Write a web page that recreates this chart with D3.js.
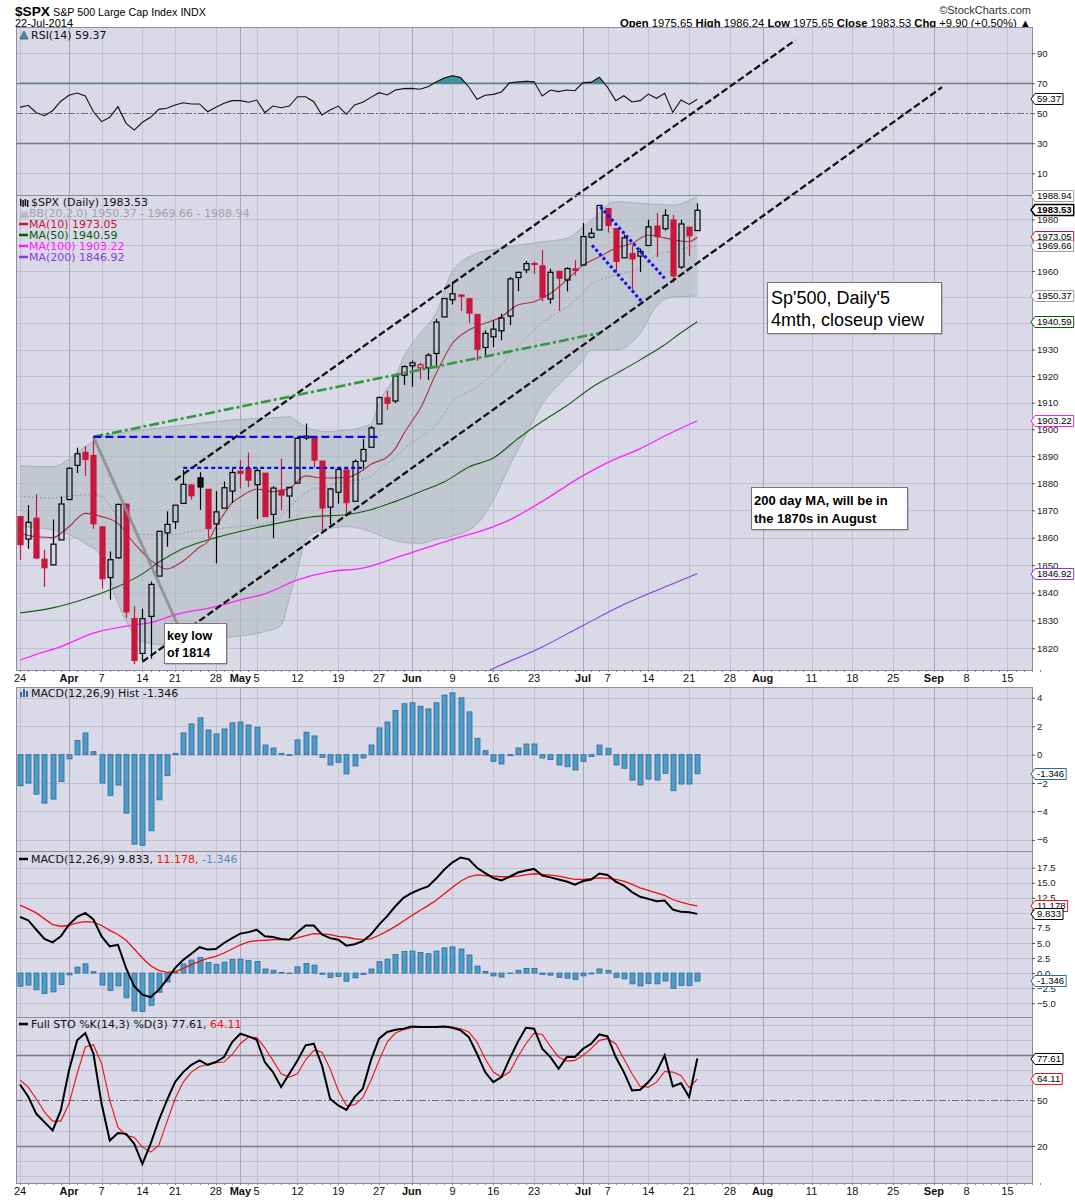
<!DOCTYPE html>
<html>
<head>
<meta charset="utf-8">
<title>$SPX daily</title>
<script src="https://cdn.jsdelivr.net/npm/d3@7/dist/d3.min.js"></script>
<style>
body { margin: 0; background: #fff; }
text { font-family: "Liberation Sans", Arial, sans-serif; }
.legend { font-family: "DejaVu Sans", Verdana, sans-serif; font-size: 11px; }
</style>
</head>
<body>
<svg id="chart" width="1075" height="1200"></svg>
<script>
// trading calendar of the x axis
var firstDay = "2014-03-24", lastDay = "2014-09-19"
var holidays = ["2014-04-18", "2014-05-26", "2014-07-04", "2014-09-01"]
var weekLabels = ["2014-03-24", "2014-04-07", "2014-04-14", "2014-04-21", "2014-04-28", "2014-05-05",
	"2014-05-12", "2014-05-19", "2014-05-27", "2014-06-09", "2014-06-16", "2014-06-23", "2014-07-07",
	"2014-07-14", "2014-07-21", "2014-07-28", "2014-08-11", "2014-08-18", "2014-08-25", "2014-09-08", "2014-09-15"]
var monthLabels = ["2014-04-01", "2014-05-01", "2014-06-02", "2014-07-01", "2014-08-01", "2014-09-02"]

// daily candles, 24-Mar .. 22-Jul
var prevClose = 1866.52
var opens = [1867.67, 1859.48, 1867.09, 1852.11, 1850.07, 1859.16,
	1873.96, 1886.61, 1891.43, 1890.25, 1863.92, 1845.48, 1852.64, 1872.28, 1830.65, 1818.18, 1831.45, 1846.01, 1861.73, 1865.79, 1872.57, 1879.32, 1881.97, 1877.72, 1865.00, 1870.78, 1877.10,
	1884.39, 1885.30, 1879.45, 1883.69, 1868.53, 1877.39, 1875.27, 1880.03, 1896.75, 1897.13, 1888.16, 1871.19, 1876.66, 1884.88, 1873.34, 1888.19, 1893.32, 1902.01, 1911.77, 1910.60, 1920.33,
	1923.87, 1923.07, 1923.06, 1928.52, 1942.41, 1948.97, 1950.34, 1949.37, 1943.35, 1930.80, 1934.84, 1937.15, 1942.73, 1957.50, 1960.45, 1962.92, 1961.97, 1949.27, 1959.89, 1956.56, 1960.79,
	1962.29, 1973.06, 1975.88, 1984.22, 1976.39, 1965.10, 1966.67, 1965.76, 1969.86, 1977.36, 1976.35, 1979.75, 1961.54, 1976.93, 1975.65]
var highs = [1867.92, 1871.87, 1875.92, 1855.55, 1866.63, 1875.18,
	1885.84, 1893.17, 1893.80, 1897.28, 1864.04, 1854.95, 1872.43, 1872.53, 1835.07, 1834.19, 1844.02, 1862.31, 1869.63, 1871.89, 1884.89, 1879.75, 1884.06, 1877.72, 1877.01, 1880.60, 1885.20,
	1888.59, 1891.33, 1885.51, 1883.69, 1878.83, 1889.07, 1878.57, 1897.13, 1902.17, 1897.13, 1888.16, 1878.28, 1886.00, 1884.88, 1888.80, 1896.33, 1901.26, 1912.28, 1914.46, 1920.03, 1924.03,
	1925.88, 1925.07, 1928.63, 1941.74, 1949.44, 1955.55, 1950.86, 1949.37, 1943.35, 1937.30, 1941.15, 1943.69, 1957.74, 1959.87, 1963.91, 1963.74, 1968.17, 1960.83, 1959.89, 1961.47, 1964.24,
	1978.58, 1976.67, 1985.59, 1984.22, 1976.39, 1974.15, 1969.84, 1968.67, 1979.85, 1982.52, 1983.94, 1981.80, 1979.91, 1976.93, 1986.24]
var lows = [1851.95, 1855.96, 1852.56, 1842.11, 1850.07, 1859.16,
	1873.96, 1883.79, 1882.65, 1863.26, 1841.48, 1837.49, 1852.38, 1830.87, 1814.36, 1815.80, 1816.29, 1846.01, 1856.72, 1863.18, 1872.57, 1873.91, 1870.24, 1859.70, 1850.61, 1870.78, 1872.69,
	1878.04, 1878.50, 1866.77, 1867.72, 1859.79, 1870.05, 1867.02, 1880.03, 1896.06, 1885.77, 1862.36, 1864.82, 1872.42, 1868.14, 1873.34, 1885.39, 1893.32, 1902.01, 1907.30, 1909.82, 1916.64,
	1915.98, 1918.79, 1918.60, 1922.93, 1942.41, 1947.16, 1944.64, 1940.08, 1925.78, 1927.69, 1930.91, 1933.55, 1939.29, 1952.26, 1959.17, 1958.89, 1948.34, 1947.49, 1944.69, 1952.18, 1958.22,
	1962.29, 1972.58, 1975.88, 1974.88, 1959.46, 1965.10, 1952.86, 1959.63, 1969.86, 1965.34, 1975.67, 1955.59, 1960.82, 1965.77, 1975.65]
var closes = [1857.44, 1865.62, 1852.56, 1849.04, 1857.62, 1872.34,
	1885.52, 1890.90, 1888.77, 1865.09, 1845.04, 1851.96, 1872.18, 1833.08, 1815.69, 1830.61, 1842.98, 1862.31, 1864.85, 1871.89, 1879.55, 1875.39, 1878.61, 1863.40, 1869.43, 1878.33, 1883.95,
	1883.68, 1881.14, 1884.66, 1867.72, 1878.21, 1875.63, 1878.48, 1896.65, 1897.45, 1888.53, 1870.85, 1877.86, 1885.08, 1872.83, 1888.03, 1892.49, 1900.53, 1911.91, 1909.78, 1920.03, 1923.57,
	1924.97, 1924.24, 1927.88, 1940.46, 1949.44, 1951.27, 1950.79, 1943.89, 1930.11, 1936.16, 1937.78, 1941.99, 1956.98, 1959.48, 1962.87, 1962.61, 1949.98, 1959.53, 1957.22, 1960.96, 1960.23,
	1973.32, 1974.62, 1985.44, 1977.65, 1963.71, 1972.83, 1964.68, 1967.57, 1977.10, 1973.28, 1981.57, 1958.12, 1978.22, 1973.63, 1983.53]

// price overlays: [day, value]
var ma10 = [[0, 1861.6], [2, 1860.3], [4, 1860.0], [6, 1864.0], [8, 1868.9], [10, 1867.7], [12, 1865.2], [14, 1857.9],
	[16, 1851.8], [18, 1848.6], [20, 1851.5], [22, 1856.5], [23, 1858.5], [24, 1863.9], [25, 1868.7], [26, 1872.8],
	[27, 1874.9], [29, 1877.8], [31, 1876.9], [33, 1878.1], [35, 1882.7], [37, 1881.9], [40, 1882.1], [42, 1884.8],
	[43, 1887.0], [45, 1889.7], [46, 1892.9], [47, 1898.2], [48, 1902.9], [49, 1907.5], [51, 1921.0], [53, 1932.4],
	[55, 1937.4], [57, 1940.0], [59, 1942.5], [61, 1947.0], [63, 1948.2], [65, 1951.4], [67, 1956.5], [69, 1962.3],
	[71, 1965.5], [73, 1968.8], [75, 1970.7], [77, 1973.9], [79, 1972.8], [81, 1971.6], [82, 1971.4], [83, 1973.05]]
var ma50 = [[0, 1832.7], [4, 1834.5], [8, 1837.8], [12, 1842.2], [15, 1846.8], [17, 1851.0], [20, 1856.0], [24, 1860.0],
	[28, 1863.0], [32, 1865.5], [36, 1867.7], [40, 1868.4], [43, 1870.2], [46, 1873.3], [49, 1876.8], [52, 1880.5],
	[55, 1886.0], [58, 1889.3], [61, 1896.5], [64, 1903.0], [67, 1908.8], [70, 1915.6], [73, 1920.8], [76, 1926.1],
	[79, 1931.8], [81, 1936.4], [83, 1940.59]]
var ma100 = [[0, 1815.8], [2, 1817.8], [5, 1820.6], [9, 1825.4], [14, 1828.4], [16, 1829.2], [19, 1832.0], [24, 1835.0],
	[27, 1837.4], [30, 1839.6], [34, 1844.6], [38, 1847.6], [42, 1848.9], [47, 1853.6], [53, 1859.4], [57, 1862.9],
	[60, 1866.5], [64, 1873.3], [69, 1882.8], [72, 1887.6], [76, 1892.8], [79, 1897.5], [83, 1903.22]]
var ma200 = [[55, 1808.5], [58, 1812.8], [64, 1820.5], [69, 1828.2], [74, 1835.7], [78, 1840.8], [83, 1846.92]]
var bbDays = [0, 4, 8, 10, 12, 15, 18, 22, 26, 30, 32, 33, 34, 35, 37, 40, 43, 44, 46, 47,
	49, 51, 53, 56, 58, 60, 62, 64, 67, 69, 70, 73, 76, 78, 80, 83]
var bbUpper = [1886.4, 1886.1, 1893.5, 1897.2, 1898.6, 1899.8, 1900.8, 1902.2, 1903.5, 1904.1, 1904.5, 1904.7, 1902.8, 1901.0, 1899.1, 1899.7, 1902.0, 1910.0, 1920.0, 1927.0,
	1936.0, 1944.0, 1960.0, 1966.8, 1968.2, 1969.4, 1970.4, 1971.3, 1972.6, 1977.0, 1979.7, 1986.9, 1986.2, 1985.8, 1985.6, 1988.94]
var bbMiddle = [1875.2, 1874.5, 1875.7, 1875.1, 1867.4, 1861.1, 1861.0, 1862.6, 1863.8, 1865.1, 1868.0, 1871.0, 1874.0, 1876.5, 1878.5, 1880.5, 1882.5, 1885.5, 1889.4, 1892.6,
	1897.0, 1901.8, 1910.3, 1915.9, 1921.0, 1928.0, 1934.2, 1940.4, 1946.2, 1951.5, 1954.8, 1958.4, 1961.2, 1966.2, 1967.9, 1969.66]
var bbLower = [1864.0, 1862.8, 1857.9, 1853.0, 1836.2, 1822.4, 1821.2, 1823.0, 1824.1, 1826.0, 1828.3, 1838.0, 1848.0, 1859.1, 1862.8, 1864.0, 1862.2, 1861.0, 1858.8, 1858.3,
	1857.9, 1859.5, 1860.6, 1865.0, 1873.8, 1886.5, 1898.0, 1909.5, 1919.7, 1926.0, 1929.8, 1929.8, 1936.2, 1946.5, 1950.1, 1950.37]

// indicators, one value per candle
var rsi = [53.9, 55.3, 50.4, 48.4, 51.7, 58, 62, 63.5, 61.5, 51,
	44.4, 47.3, 54.4, 43.3, 38.8, 44, 47.3, 52.6, 53.3, 55.5,
	57, 56.2, 56.2, 51, 54, 56.6, 58.4, 58.4, 57.3, 58.8,
	50.4, 54.8, 53.7, 54.8, 61, 61, 57.7, 48.8, 52.2, 54.8,
	49.3, 55.5, 57.3, 60.6, 63.7, 62.2, 65.5, 66.4, 66.6, 66,
	67.7, 70.8, 73.5, 75, 73.8, 67.5, 59.3, 62, 62.6, 64.2,
	70.3, 70.8, 71.3, 71, 61.5, 65.5, 64.4, 65.5, 65, 70.4,
	70.6, 74, 67.3, 58.4, 61.7, 57.5, 58.4, 62.8, 60, 63.3,
	50.6, 58.8, 55.9, 59.37]
var macdHist = [-2.19, -2.0, -2.78, -3.41, -3.13, -1.9, -0.3, 0.99, 1.53, 0.21,
	-2.0, -2.89, -2.14, -4.12, -6.3, -6.38, -5.36, -3.18, -1.48, 0.09,
	1.53, 2.16, 2.59, 1.74, 1.46, 1.81, 2.24, 2.3, 2.09, 1.93,
	0.68, 0.47, 0.09, -0.05, 1.04, 1.58, 1.32, -0.19, -0.73, -0.54,
	-1.36, -0.8, -0.24, 0.68, 1.88, 2.3, 3.1, 3.58, 3.65, 3.41,
	3.22, 3.65, 4.19, 4.35, 4.0, 3.01, 1.15, 0.28, -0.47, -0.66,
	-0.07, 0.47, 0.75, 0.75, -0.24, -0.35, -0.73, -0.85, -1.08, -0.47,
	-0.14, 0.68, 0.45, -0.73, -0.96, -1.79, -2.14, -1.72, -1.79, -1.32,
	-2.54, -2.07, -2.07, -1.346]
var macdLine = [9.33, 8.78, 7.2, 5.67, 5.1, 6.1, 8.05, 9.33, 10.0, 8.9,
	6.1, 4.44, 4.7, 0.83, -2.2, -3.6, -4.0, -2.8, -1.1, 0.83,
	2.2, 3.2, 4.3, 3.9, 4.0, 5.0, 5.8, 6.55, 6.8, 7.2,
	6.1, 6.0, 5.67, 5.55, 6.8, 7.9, 7.9, 6.4, 5.8, 5.55,
	4.55, 4.8, 5.3, 6.4, 8.05, 9.45, 11.1, 12.5, 13.3, 13.9,
	14.4, 15.7, 17.2, 18.4, 19.2, 18.9, 17.5, 16.6, 15.8, 15.4,
	16.0, 16.7, 17.05, 17.3, 16.2, 15.9, 15.55, 15.2, 14.7, 15.3,
	15.55, 16.55, 16.3, 15.2, 14.55, 13.45, 12.67, 12.33, 11.95, 12.05,
	10.55, 10.17, 10.1, 9.833]
var macdSignal = [11.28, 10.67, 10.0, 9.0, 8.05, 7.78, 7.9, 8.33, 8.55, 8.45,
	7.9, 7.1, 6.4, 5.45, 4.0, 2.5, 1.2, 0.44, 0.11, 0.22,
	0.78, 1.39, 1.94, 2.44, 2.78, 3.33, 4.0, 4.7, 5.17, 5.4,
	5.45, 5.55, 5.55, 5.55, 5.83, 6.2, 6.55, 6.5, 6.4, 6.1,
	5.95, 5.7, 5.55, 5.67, 6.28, 6.97, 7.75, 8.64, 9.55, 10.4,
	11.2, 12.11, 13.16, 14.25, 15.25, 16.0, 16.3, 16.2, 16.1, 16.0,
	16.0, 16.1, 16.3, 16.5, 16.4, 16.28, 16.1, 15.83, 15.55, 15.55,
	15.67, 15.83, 15.72, 15.55, 15.28, 14.72, 14.17, 13.72, 13.33, 12.9,
	12.22, 11.78, 11.4, 11.178]
var stoK = [60.5, 52.6, 41.2, 35.7, 30.2, 43.4, 69.8, 89.6, 94.4, 80.8,
	47.8, 23.6, 28.5, 28, 21.4, 8.2, 21.4, 36.8, 50, 62.1,
	68.7, 73.5, 76.4, 73.5, 75.3, 78.6, 88.5, 94, 92.2, 90,
	75.3, 68.7, 58.8, 67.6, 76.4, 86.3, 87.4, 73.1, 51.1, 46.7,
	43.8, 52.2, 57.7, 76.4, 90.7, 95.1, 96.6, 97.3, 98.8, 98.4,
	98.4, 98.4, 98.8, 97.9, 96.2, 91.8, 80.8, 68.7, 62.1, 65.4,
	77.5, 88.5, 97.9, 97.3, 84.1, 78.6, 70.9, 78.6, 78.6, 84.1,
	87.4, 93.5, 92.2, 78.6, 68.7, 56.6, 57, 62.1, 68.7, 79.7,
	59.2, 61.4, 52.2, 77.61]
var stoD = [63.6, 58.8, 51.1, 42.3, 36.4, 36.4, 47.8, 67.6, 85.2, 86.7,
	74.2, 50, 32.4, 26.9, 25.8, 19.2, 15.9, 20.3, 35.7, 51.1,
	62.1, 68.7, 72.4, 73.7, 74.8, 75.3, 80.3, 87.4, 91.8, 91.4,
	84.7, 76.4, 67.6, 65.4, 67.6, 76.8, 83, 81.9, 70.9, 56.6,
	46.7, 47.1, 51.8, 63.2, 76.4, 88.5, 94.4, 96.6, 97.9, 98.4,
	98.4, 98.4, 98.4, 98.4, 97.3, 95.1, 88.5, 77.5, 68.7, 65.4,
	68.7, 78.6, 87.4, 94.4, 93.5, 85.6, 78.6, 75.9, 76.4, 79.7,
	84.1, 89.6, 90.7, 87.4, 77.5, 67.6, 59.2, 58.8, 62.1, 69.1,
	68.7, 66.5, 58.4, 64.11]

// hand drawn annotations, [day, price]
var trendLines = [
	{from: [19.0, 1881.2], to: [95.0, 2050.9], kind: "channel"},
	{from: [15.0, 1815.2], to: [113.0, 2032.1], kind: "channel"},
	{from: [9, 1897.2], to: [70.9, 1936.2], kind: "green"},
	{from: [9, 1897.2], to: [19.6, 1826.6], kind: "gray"},
	{from: [9, 1897.2], to: [43.9, 1897.2], kind: "blue"},
	{from: [20, 1885.7], to: [41.9, 1885.7], kind: "blueFine"},
	{from: [71.1, 1984.9], to: [79.0, 1957.2], kind: "dots"},
	{from: [70.1, 1970.0], to: [76.2, 1948.2], kind: "dots"}
]
var noteKeyLow = ["key low", "of 1814"]
var noteTitle = ["Sp'500, Daily'5", "4mth, closeup view"]
var noteMa200 = ["200 day MA, will be in", "the 1870s in August"]

var parse = d3.timeParse("%Y-%m-%d"), fmt = d3.timeFormat("%Y-%m-%d")
var days = d3.timeDay.range(parse(firstDay), d3.timeDay.offset(parse(lastDay), 1))
	.filter(function(d) { return d.getDay() != 0 && d.getDay() != 6 && holidays.indexOf(fmt(d)) < 0 })
	.map(fmt)
var dayIndex = new Map(days.map(function(d, i) { return [d, i] }))
var last = closes.length - 1

var svg = d3.select("#chart")
var plotLeft = 16, plotRight = 1032
var bg = "#d9d9e8", gridColor = "#c1c1d2", monthColor = "#a6a6b8", frameColor = "#8c8c9a"
var red = "#c8173c"

var x = d3.scaleLinear().domain([0, 121]).range([20, 1007.4])

var P = {
	rsi: {top: 27, bottom: 195},
	price: {top: 195, bottom: 670},
	hist: {top: 687, bottom: 851},
	macd: {top: 851, bottom: 1017},
	sto: {top: 1017, bottom: 1183}
}
var rsiY = d3.scaleLinear().domain([-4.5, 107.5]).range([P.rsi.bottom, P.rsi.top])
var priceY = d3.scaleLog().domain([1812.26, 1989.5]).range([P.price.bottom, P.price.top])
var histY = d3.scaleLinear().domain([-6.78, 4.76]).range([P.hist.bottom, P.hist.top])
var macdY = d3.scaleLinear().domain([-7.3, 20.28]).range([P.macd.bottom, P.macd.top])
var stoY = d3.scaleLinear().domain([-4.4, 105]).range([P.sto.bottom, P.sto.top])

var weekIdx = weekLabels.map(function(d) { return dayIndex.get(d) })
var monthIdx = monthLabels.map(function(d) { return dayIndex.get(d) })

function clipFor(name, p) {
	svg.append("clipPath").attr("id", "clip-" + name).append("rect")
		.attr("x", plotLeft).attr("y", p.top).attr("width", plotRight - plotLeft).attr("height", p.bottom - p.top)
	return "url(#clip-" + name + ")"
}

function panel(p, y, light, dark, dashed) {
	var g = svg.append("g")
	g.append("rect").attr("x", plotLeft).attr("y", p.top)
		.attr("width", plotRight - plotLeft).attr("height", p.bottom - p.top).attr("fill", bg)
	function hlines(vals, color, width, dash) {
		g.selectAll(null).data(vals).enter().append("line")
			.attr("x1", plotLeft).attr("x2", plotRight)
			.attr("y1", function(d) { return Math.round(y(d)) + 0.5 })
			.attr("y2", function(d) { return Math.round(y(d)) + 0.5 })
			.attr("stroke", color).attr("stroke-width", width).attr("stroke-dasharray", dash)
	}
	function vlines(vals, color) {
		g.selectAll(null).data(vals).enter().append("line")
			.attr("x1", function(d) { return Math.round(x(d)) + 0.5 })
			.attr("x2", function(d) { return Math.round(x(d)) + 0.5 })
			.attr("y1", p.top).attr("y2", p.bottom).attr("stroke", color)
	}
	hlines(light, gridColor, 1, null)
	vlines(weekIdx, gridColor)
	vlines(monthIdx, monthColor)
	hlines(dark || [], "#7c7c84", 1.3, null)
	hlines(dashed || [], "#6c6c74", 1.1, "7,2,2,2")
	return g
}

function frame(p) {
	svg.append("rect").attr("x", plotLeft + 0.5).attr("y", p.top + 0.5)
		.attr("width", plotRight - plotLeft).attr("height", p.bottom - p.top)
		.attr("fill", "none").attr("stroke", frameColor)
}

function tag(y, text, color, bold) {
	var g = svg.append("g").attr("transform", "translate(" + plotRight + "," + Math.round(y) + ")")
	var path = g.append("path").attr("fill", "#fff").attr("stroke", color).attr("stroke-width", bold ? 1.5 : 1)
	var t = g.append("text").attr("x", 5).attr("dy", "0.36em").attr("font-size", 9.6)
		.attr("font-weight", bold ? "bold" : null).text(text)
	var w = t.node().getComputedTextLength() + 7
	path.attr("d", "M-1,0 L3,-5.5 H" + w + " V5.5 H3 Z")
}

function rightAxis(y, ticks, format, tagVals) {
	var g = svg.append("g").attr("transform", "translate(" + plotRight + ",0)")
		.call(d3.axisRight(y).tickValues(ticks).tickSize(3).tickPadding(2).tickFormat(format))
	g.select(".domain").remove()
	g.selectAll("line").attr("stroke", "#555")
	g.selectAll("text").attr("font-size", 9.6).attr("fill", "#222")
		.style("font-family", "'Liberation Sans', Arial, sans-serif")
		.style("display", function(d) {
			return tagVals.some(function(v) { return Math.abs(y(v) - y(d)) < 6 }) ? "none" : null
		})
}

function dateAxis(yTop) {
	var g = svg.append("g")
	g.selectAll(null).data(d3.range(days.length)).enter().append("line")
		.attr("x1", function(d) { return Math.round(x(d)) + 0.5 })
		.attr("x2", function(d) { return Math.round(x(d)) + 0.5 })
		.attr("y1", yTop).attr("y2", yTop + 2).attr("stroke", "#888")
	var labels = weekLabels.map(function(d) { return {i: dayIndex.get(d), text: String(+d.slice(8)), bold: false} })
		.concat(monthLabels.map(function(d) { return {i: dayIndex.get(d), text: d3.timeFormat("%b")(parse(d)), bold: true} }))
	g.selectAll(null).data(labels).enter().append("text")
		.attr("x", function(d) { return x(d.i) }).attr("y", yTop + 12)
		.attr("text-anchor", "middle").attr("font-size", 11)
		.attr("font-weight", function(d) { return d.bold ? "bold" : null })
		.attr("fill", "#111").text(function(d) { return d.text })
}

function legendLine(y, parts, x0) {
	var t = svg.append("text").attr("class", "legend").attr("x", x0 || 31).attr("y", y)
	parts.forEach(function(p) { t.append("tspan").attr("fill", p[1]).text(p[0]) })
	return t
}

// ---------- header ----------
svg.append("text").attr("x", 15).attr("y", 16).attr("font-size", 13.5).attr("font-weight", "bold")
	.attr("textLength", 35).attr("lengthAdjust", "spacingAndGlyphs").text("$SPX")
svg.append("text").attr("x", 53).attr("y", 16).attr("font-size", 11)
	.attr("textLength", 153).attr("lengthAdjust", "spacingAndGlyphs").text("S&P 500 Large Cap Index INDX")
svg.append("text").attr("x", 15).attr("y", 27).attr("font-size", 11)
	.attr("textLength", 58).attr("lengthAdjust", "spacingAndGlyphs").text("22-Jul-2014")
svg.append("text").attr("x", 1031).attr("y", 14).attr("font-size", 11).attr("text-anchor", "end")
	.attr("fill", "#333").text("\u00a9StockCharts.com")
var ohlc = svg.append("text").attr("x", 1031).attr("y", 27).attr("font-size", 11).attr("text-anchor", "end")
	.attr("textLength", 411).attr("lengthAdjust", "spacingAndGlyphs")
var change = closes[last] - closes[last - 1]
;[["Open ", true], [opens[last].toFixed(2) + " ", false], ["High ", true], [highs[last].toFixed(2) + " ", false],
	["Low ", true], [lows[last].toFixed(2) + " ", false], ["Close ", true], [closes[last].toFixed(2) + " ", false],
	["Chg ", true], ["+" + change.toFixed(2) + " (+" + (change / closes[last - 1] * 100).toFixed(2) + "%) \u25b2", false]]
	.forEach(function(p) { ohlc.append("tspan").attr("font-weight", p[1] ? "bold" : null).text(p[0]) })

// ---------- RSI ----------
panel(P.rsi, rsiY, [10, 90], [30, 70], [50])
var rsiClip = clipFor("rsi-high", {top: P.rsi.top, bottom: rsiY(70)})
svg.append("path").datum(rsi).attr("clip-path", rsiClip)
	.attr("d", d3.area().x(function(d, i) { return x(i) }).y0(rsiY(70)).y1(function(d) { return rsiY(d) }))
	.attr("fill", "#3a97a8").attr("stroke", "#2a6f7a")
svg.append("path").datum(rsi).attr("fill", "none").attr("stroke", "#111").attr("stroke-width", 1.1)
	.attr("d", d3.line().x(function(d, i) { return x(i) }).y(function(d) { return rsiY(d) }))
svg.append("path").attr("d", "M20,39 L24,31 L28,39 Z").attr("fill", "#3a97a8").attr("stroke", "#333").attr("stroke-width", 0.6)
legendLine(39, [["RSI(14) " + rsi[last].toFixed(2), "#111"]])
frame(P.rsi)
rightAxis(rsiY, [10, 30, 50, 70, 90], d3.format("d"), [rsi[last]])
tag(rsiY(rsi[last]), rsi[last].toFixed(2), "#111")

// ---------- price ----------
panel(P.price, priceY, d3.range(1820, 1981, 10))
var priceClip = clipFor("price", P.price)
var gp = svg.append("g").attr("clip-path", priceClip)
var bbArea = d3.area().curve(d3.curveMonotoneX)
	.x(function(d, k) { return x(bbDays[k]) })
	.y0(function(d, k) { return priceY(bbLower[k]) })
	.y1(function(d, k) { return priceY(bbUpper[k]) })
gp.append("path").datum(bbDays).attr("d", bbArea).attr("fill", "#aebac0").attr("fill-opacity", 0.55)
function bandLine(vals, color, dash, width) {
	gp.append("path").datum(vals).attr("fill", "none").attr("stroke", color)
		.attr("stroke-width", width || 1).attr("stroke-dasharray", dash)
		.attr("d", d3.line().curve(d3.curveMonotoneX)
			.x(function(d, k) { return x(bbDays[k]) }).y(function(d) { return priceY(d) }))
}
bandLine(bbUpper, "#a9b0b8")
bandLine(bbLower, "#a9b0b8")
bandLine(bbMiddle, "#9a9aa6", "2,2")
var maLine = d3.line().curve(d3.curveMonotoneX)
	.x(function(d) { return x(d[0]) }).y(function(d) { return priceY(d[1]) })
;[[ma200, "#8a3ae0", 1.1], [ma100, "#ff22ff", 1.3], [ma50, "#0f5f0f", 1.1], [ma10, "#a8343f", 1.1]].forEach(function(m) {
	gp.append("path").datum(m[0]).attr("d", maLine).attr("fill", "none").attr("stroke", m[1]).attr("stroke-width", m[2])
})

var candles = closes.map(function(c, i) {
	return {i: i, o: opens[i], h: highs[i], l: lows[i], c: c, pc: i ? closes[i - 1] : prevClose}
})
var cg = gp.selectAll("g.candle").data(candles).enter().append("g").attr("class", "candle")
	.attr("stroke", function(d) { return d.c < d.pc ? red : "#000" })
cg.append("line").attr("x1", function(d) { return Math.round(x(d.i)) + 0.5 }).attr("x2", function(d) { return Math.round(x(d.i)) + 0.5 })
	.attr("y1", function(d) { return priceY(d.h) }).attr("y2", function(d) { return priceY(Math.max(d.o, d.c)) })
	.attr("stroke-width", 1.2)
cg.append("line").attr("x1", function(d) { return Math.round(x(d.i)) + 0.5 }).attr("x2", function(d) { return Math.round(x(d.i)) + 0.5 })
	.attr("y1", function(d) { return priceY(Math.min(d.o, d.c)) }).attr("y2", function(d) { return priceY(d.l) })
	.attr("stroke-width", 1.2)
cg.append("rect").attr("x", function(d) { return Math.round(x(d.i)) - 2 }).attr("width", 5)
	.attr("y", function(d) { return priceY(Math.max(d.o, d.c)) })
	.attr("height", function(d) { return Math.max(1, priceY(Math.min(d.o, d.c)) - priceY(Math.max(d.o, d.c))) })
	.attr("fill", function(d) { return d.c < d.o ? (d.c < d.pc ? red : "#111") : "none" })
	.attr("stroke-width", 1.2)

// annotations drawn on the chart
var lineStyles = {
	channel: {color: "#111", width: 2.3, dash: "7,3"},
	green: {color: "#2f9a3f", width: 2.6, dash: "10,3,3,3"},
	gray: {color: "#8c8c8c", width: 3, dash: null},
	blue: {color: "#0a0ae8", width: 2.4, dash: "8,4"},
	blueFine: {color: "#0a0ae8", width: 2.2, dash: "4,3"},
	dots: {color: "#1010f0", width: 3, dash: "3,2.5"}
}
svg.append("g").selectAll("line").data(trendLines).enter().append("line")
	.attr("x1", function(d) { return x(d.from[0]) }).attr("y1", function(d) { return priceY(d.from[1]) })
	.attr("x2", function(d) { return x(d.to[0]) }).attr("y2", function(d) { return priceY(d.to[1]) })
	.attr("stroke", function(d) { return lineStyles[d.kind].color })
	.attr("stroke-width", function(d) { return lineStyles[d.kind].width })
	.attr("stroke-dasharray", function(d) { return lineStyles[d.kind].dash })
	.attr("stroke-opacity", function(d) { return d.kind == "gray" ? 0.85 : 1 })

function note(lines, x0, y0, w, h, size, bold, lineGap, padX, firstBase) {
	var g = svg.append("g")
	g.append("rect").attr("x", x0 + 1.5).attr("y", y0 + 1.5).attr("width", w).attr("height", h).attr("fill", "#9c8e98")
	g.append("rect").attr("x", x0 + 0.5).attr("y", y0 + 0.5).attr("width", w).attr("height", h)
		.attr("fill", "#fff").attr("stroke", "#86707e")
	g.selectAll("text").data(lines).enter().append("text")
		.attr("x", x0 + padX).attr("y", function(d, k) { return y0 + firstBase + k * lineGap })
		.attr("font-size", size).attr("font-weight", bold ? "bold" : null).attr("fill", "#000")
		.text(function(d) { return d })
}
note(noteKeyLow, 164, 623, 62, 40, 12.5, true, 17, 3, 17)
note(noteTitle, 767, 282, 174, 51, 18, false, 22.5, 4, 21.5)
note(noteMa200, 751, 487, 156, 42, 13, true, 17.5, 3, 18)

// price legend
svg.append("g").attr("fill", "#111").selectAll("rect").data([0, 1, 2, 3]).enter().append("rect")
	.attr("x", function(d) { return 20 + d * 2.3 }).attr("y", function(d) { return 199 + (d % 2) }).attr("width", 1.5).attr("height", 7)
legendLine(206, [["$SPX (Daily) " + closes[last].toFixed(2), "#111"]])
svg.append("path").attr("d", "M19,218 L22,211 L24,214 L26,210 L29,218 Z").attr("fill", "#b8b8be")
legendLine(217, [["BB(20,2.0) " + bbLower[bbLower.length - 1].toFixed(2) + " - " + bbMiddle[bbMiddle.length - 1].toFixed(2) +
	" - " + bbUpper[bbUpper.length - 1].toFixed(2), "#a2a2a8"]], 29)
;[["MA(10) ", ma10, "#c8143c"], ["MA(50) ", ma50, "#0a5a0a"], ["MA(100) ", ma100, "#ff1aff"], ["MA(200) ", ma200, "#8a3ae0"]]
	.forEach(function(m, k) {
		var yy = 228 + k * 11
		svg.append("line").attr("x1", 19).attr("x2", 28).attr("y1", yy - 4).attr("y2", yy - 4)
			.attr("stroke", m[2]).attr("stroke-width", 2.5)
		legendLine(yy, [[m[0] + m[1][m[1].length - 1][1].toFixed(2), m[2]]], 29)
	})
frame(P.price)
var priceTags = [
	[bbUpper[bbUpper.length - 1], "#a0a0a8"], [closes[last], "#000", true], [ma10[ma10.length - 1][1], "#c8143c"],
	[bbMiddle[bbMiddle.length - 1], "#a0a0a8"], [bbLower[bbLower.length - 1], "#a0a0a8"],
	[ma50[ma50.length - 1][1], "#0a5a0a"], [ma100[ma100.length - 1][1], "#ff1aff"], [ma200[ma200.length - 1][1], "#8a3ae0"]]
rightAxis(priceY, d3.range(1820, 1981, 10), d3.format("d"), priceTags.map(function(t) { return t[0] }))
priceTags.forEach(function(t) { tag(priceY(t[0]), t[0].toFixed(2), t[1], t[2]) })
dateAxis(P.price.bottom)

// ---------- MACD histogram ----------
panel(P.hist, histY, [-6, -4, -2, 0, 2, 4])
function histBars(y) {
	svg.append("g").selectAll("rect").data(macdHist).enter().append("rect")
		.attr("x", function(d, i) { return Math.round(x(i)) - 2 }).attr("width", 5)
		.attr("y", function(d) { return Math.min(y(0), y(d)) })
		.attr("height", function(d) { return Math.max(0.5, Math.abs(y(d) - y(0))) })
		.attr("fill", "#4f9bc8").attr("stroke", "#2b6c9a").attr("stroke-width", 0.8)
}
histBars(histY)
svg.append("g").attr("fill", "#2b6c9a").selectAll("rect").data([5, 8, 6]).enter().append("rect")
	.attr("x", function(d, k) { return 20 + k * 3 }).attr("y", function(d) { return 697 - d }).attr("width", 2).attr("height", function(d) { return d })
legendLine(697, [["MACD(12,26,9) Hist " + macdHist[last].toFixed(3), "#111"]])
frame(P.hist)
rightAxis(histY, [-6, -4, -2, 0, 2, 4], d3.format("d"), [macdHist[last]])
tag(histY(macdHist[last]), macdHist[last].toFixed(3), "#2b6c9a")

// ---------- MACD lines ----------
var macdTicks = [-5, -2.5, 0, 2.5, 5, 7.5, 10, 12.5, 15, 17.5]
panel(P.macd, macdY, macdTicks)
histBars(macdY)
svg.append("path").datum(macdSignal).attr("fill", "none").attr("stroke", "#f01010").attr("stroke-width", 1.3)
	.attr("d", d3.line().x(function(d, i) { return x(i) }).y(function(d) { return macdY(d) }))
svg.append("path").datum(macdLine).attr("fill", "none").attr("stroke", "#000").attr("stroke-width", 2)
	.attr("d", d3.line().x(function(d, i) { return x(i) }).y(function(d) { return macdY(d) }))
svg.append("line").attr("x1", 19).attr("x2", 28).attr("y1", 859).attr("y2", 859).attr("stroke", "#000").attr("stroke-width", 2.5)
legendLine(863, [["MACD(12,26,9) " + macdLine[last].toFixed(3) + ", ", "#111"], [macdSignal[last].toFixed(3) + ",", "#f01010"],
	[" " + macdHist[last].toFixed(3), "#4f8fc0"]])
frame(P.macd)
rightAxis(macdY, macdTicks, d3.format(".1f"), [macdSignal[last], macdLine[last], macdHist[last]])
tag(macdY(macdSignal[last]), macdSignal[last].toFixed(3), "#f01010")
tag(macdY(macdLine[last]), macdLine[last].toFixed(3), "#000")
tag(macdY(macdHist[last]), macdHist[last].toFixed(3), "#2b6c9a")

// ---------- Full stochastics ----------
panel(P.sto, stoY, [0, 10, 30, 40, 60, 70, 90, 100], [20, 80], [50])
svg.append("path").datum(stoD).attr("fill", "none").attr("stroke", "#f01010").attr("stroke-width", 1.1)
	.attr("d", d3.line().x(function(d, i) { return x(i) }).y(function(d) { return stoY(d) }))
svg.append("path").datum(stoK).attr("fill", "none").attr("stroke", "#000").attr("stroke-width", 2)
	.attr("d", d3.line().x(function(d, i) { return x(i) }).y(function(d) { return stoY(d) }))
svg.append("line").attr("x1", 19).attr("x2", 28).attr("y1", 1024).attr("y2", 1024).attr("stroke", "#000").attr("stroke-width", 2.5)
legendLine(1028, [["Full STO %K(14,3) %D(3) " + stoK[last].toFixed(2) + ", ", "#111"], [stoD[last].toFixed(2), "#f01010"]])
frame(P.sto)
rightAxis(stoY, [20, 50, 80], d3.format("d"), [stoK[last], stoD[last]])
tag(stoY(stoK[last]), stoK[last].toFixed(2), "#000")
tag(stoY(stoD[last]), stoD[last].toFixed(2), "#f01010")
dateAxis(P.sto.bottom)
</script>
</body>
</html>
